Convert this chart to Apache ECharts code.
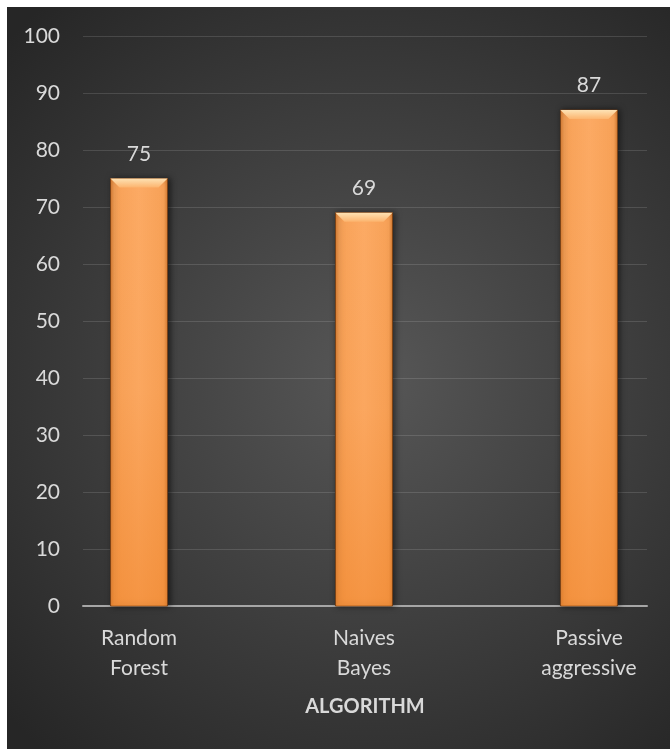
<!DOCTYPE html>
<html>
<head>
<meta charset="utf-8">
<script src="https://cdn.jsdelivr.net/npm/echarts@6/dist/echarts.min.js"></script>
<style>
  html, body { margin: 0; padding: 0; background: #ffffff; }
  #myChart { position: absolute; left: 7px; top: 7px; width: 663px; height: 742px; }
</style>
</head>
<body>
<div id="myChart"></div>
<script>
// 数据
var categories = ['Random Forest', 'Naives Bayes', 'Passive aggressive'];
var accuracy = [75, 69, 87];
var yTicks = [0, 10, 20, 30, 40, 50, 60, 70, 80, 90, 100];

var txt = '#d9d9d9';
var font = 'Lato';

var myChart = echarts.init(document.getElementById('myChart'));

function renderBar(params, api) {
  var x = api.value(0), v = api.value(1);
  var top = api.coord([x, v]);
  var base = api.coord([x, 0]);
  var w = 57, bev = 9;
  var left = top[0] - w / 2;
  var h = base[1] - top[1];
  return {
    type: 'group',
    children: [
      {
        type: 'rect',
        shape: { x: left, y: top[1], width: w, height: h },
        style: {
          fill: new echarts.graphic.LinearGradient(0, 0, 1, 0, [
            { offset: 0, color: '#dc7d30' },
            { offset: 0.07, color: '#f7a157' },
            { offset: 0.5, color: '#fcaa64' },
            { offset: 0.93, color: '#f7a157' },
            { offset: 1, color: '#dc7d30' }
          ]),
          stroke: '#7a4217',
          lineWidth: 1,
          shadowBlur: 6,
          shadowOffsetX: 2,
          shadowColor: 'rgba(0,0,0,0.55)'
        }
      },
      {
        type: 'rect',
        shape: { x: left + 1, y: top[1], width: w - 2, height: h },
        style: {
          fill: new echarts.graphic.LinearGradient(0, 0, 0, 1, [
            { offset: 0, color: 'rgba(238,128,35,0)' },
            { offset: 0.5, color: 'rgba(238,128,35,0.08)' },
            { offset: 1, color: 'rgba(238,128,35,0.5)' }
          ])
        }
      },
      {
        type: 'polygon',
        shape: { points: [[left, top[1]], [left + w, top[1]], [left + w - bev, top[1] + bev], [left + bev, top[1] + bev]] },
        style: {
          fill: new echarts.graphic.LinearGradient(0, 0, 0, 1, [
            { offset: 0, color: '#fde2b4' },
            { offset: 1, color: '#fcb46e' }
          ])
        }
      },
      {
        type: 'text',
        style: {
          text: String(v),
          x: top[0],
          y: top[1] - 14,
          align: 'center',
          verticalAlign: 'bottom',
          fill: txt,
          fontFamily: font,
          fontSize: 21
        }
      }
    ]
  };
}

var option = {
  backgroundColor: {
    type: 'radial', x: 0.55, y: 0.5, r: 0.75,
    colorStops: [
      { offset: 0, color: '#575757' },
      { offset: 1, color: '#262626' }
    ]
  },
  textStyle: { fontFamily: font },
  grid: { left: 76, right: 23, top: 29, bottom: 143 },
  xAxis: {
    type: 'value',
    min: -0.249,
    max: 2.258,
    name: 'ALGORITHM',
    nameLocation: 'middle',
    nameGap: 91,
    nameTextStyle: { color: txt, fontSize: 20, fontWeight: 'bold', fontFamily: font },
    axisLine: { show: true, lineStyle: { color: '#a6a6a6', width: 2 } },
    axisTick: { show: false },
    splitLine: { show: false },
    axisLabel: {
      customValues: [0, 1, 2],
      color: txt,
      fontSize: 21,
      lineHeight: 30,
      margin: 17,
      formatter: function (val) { return categories[Math.round(val)].replace(' ', '\n'); }
    }
  },
  yAxis: {
    type: 'value',
    min: yTicks[0],
    max: yTicks[yTicks.length - 1],
    interval: 10,
    axisLine: { show: false },
    axisTick: { show: false },
    splitLine: { lineStyle: { color: 'rgba(255,255,255,0.13)', width: 1 } },
    axisLabel: { color: txt, fontSize: 21, margin: 23 }
  },
  series: [{
    type: 'custom',
    renderItem: renderBar,
    encode: { x: 0, y: 1 },
    data: accuracy.map(function (v, i) { return [i, v]; })
  }]
};

myChart.setOption(option);
</script>
</body>
</html>
